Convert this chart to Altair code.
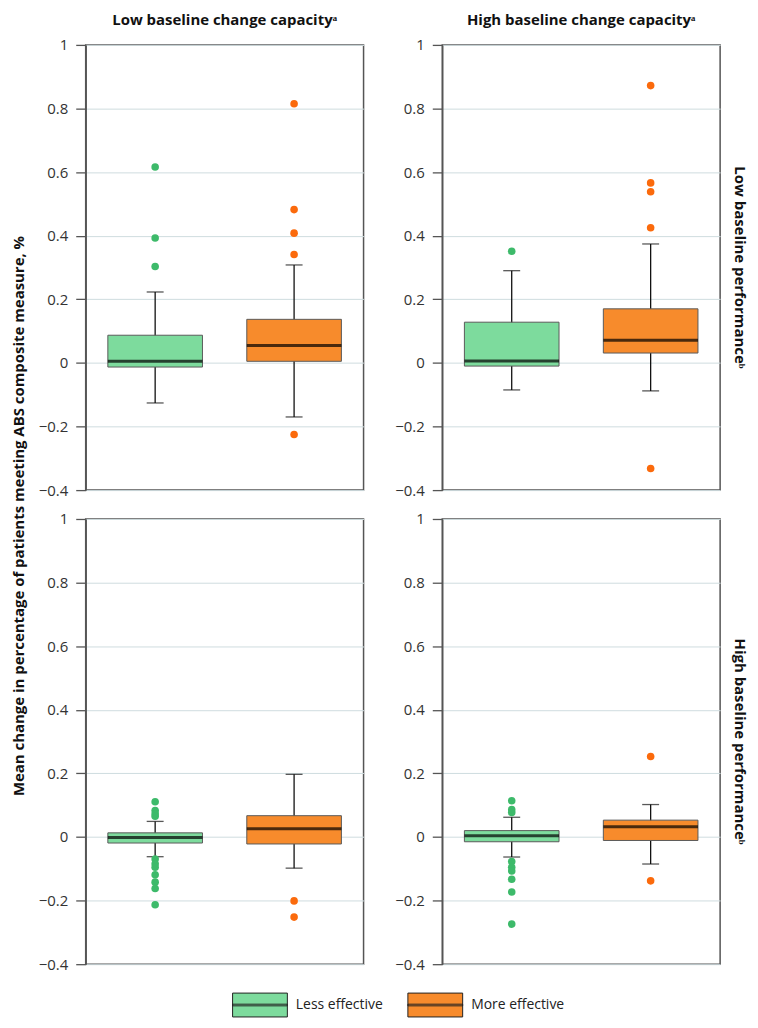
import altair as alt
import pandas as pd

LESS = "Less effective"
MORE = "More effective"
CAP_LO = "Low baseline change capacityᵃ"
CAP_HI = "High baseline change capacityᵃ"
PERF_LO = "Low baseline performanceᵇ"
PERF_HI = "High baseline performanceᵇ"

# Box summaries (one row per box)
box_perf = [PERF_LO, PERF_LO, PERF_LO, PERF_LO, PERF_HI, PERF_HI, PERF_HI, PERF_HI]
box_cap = [CAP_LO, CAP_LO, CAP_HI, CAP_HI, CAP_LO, CAP_LO, CAP_HI, CAP_HI]
box_group = [LESS, MORE, LESS, MORE, LESS, MORE, LESS, MORE]
whisker_lo = [-0.126, -0.170, -0.085, -0.088, -0.062, -0.098, -0.063, -0.085]
q1 = [-0.013, 0.005, -0.010, 0.031, -0.019, -0.022, -0.015, -0.011]
median = [0.005, 0.055, 0.006, 0.071, -0.002, 0.026, 0.004, 0.032]
q3 = [0.087, 0.137, 0.128, 0.170, 0.013, 0.067, 0.020, 0.053]
whisker_hi = [0.223, 0.308, 0.290, 0.374, 0.049, 0.197, 0.062, 0.102]

# Outliers per box (same order as above)
outliers = [
    [0.616, 0.393, 0.303],
    [0.815, 0.482, 0.408, 0.341, -0.225],
    [0.351],
    [0.872, 0.566, 0.538, 0.425, -0.332],
    [0.111, 0.083, 0.073, 0.065, -0.069, -0.084, -0.095, -0.119, -0.142, -0.162, -0.213],
    [-0.201, -0.252],
    [0.114, 0.086, 0.077, -0.077, -0.095, -0.107, -0.133, -0.173, -0.274],
    [0.253, -0.138],
]

y_ticks = [-0.4, -0.2, 0, 0.2, 0.4, 0.6, 0.8, 1]

rows = []
for i in range(len(box_group)):
    rows.append(dict(kind="box", perf=box_perf[i], cap=box_cap[i], group=box_group[i],
                     lo=whisker_lo[i], q1=q1[i], med=median[i], q3=q3[i], hi=whisker_hi[i]))
    for v in outliers[i]:
        rows.append(dict(kind="out", perf=box_perf[i], cap=box_cap[i], group=box_group[i], value=v))
df = pd.DataFrame(rows)

FONT = "Open Sans"
BOX_W = 95

x_enc = alt.X("group:N", sort=[LESS, MORE], axis=None,
              scale=alt.Scale(paddingInner=0, paddingOuter=0))
y_scale = alt.Scale(domain=[-0.4, 1], nice=False, zero=False)
y_axis = alt.Axis(values=y_ticks, format=".1~f", title=None, grid=True)

box_base = alt.Chart().transform_filter(alt.datum.kind == "box")

whisker = box_base.mark_rule(strokeWidth=1.3, color="#111111").encode(
    x=x_enc,
    y=alt.Y("lo:Q", scale=y_scale, axis=y_axis),
    y2="hi:Q",
)
cap_lo = box_base.mark_tick(color="#111111", thickness=1.3, size=17).encode(
    x=x_enc, y=alt.Y("lo:Q", scale=y_scale, axis=y_axis))
cap_hi = box_base.mark_tick(color="#111111", thickness=1.3, size=17).encode(
    x=x_enc, y=alt.Y("hi:Q", scale=y_scale, axis=y_axis))
box = box_base.mark_bar(size=BOX_W, stroke="#5a5a5a", strokeWidth=1).encode(
    x=x_enc,
    y=alt.Y("q1:Q", scale=y_scale, axis=y_axis),
    y2="q3:Q",
    color=alt.Color("group:N",
                    scale=alt.Scale(domain=[LESS, MORE], range=["#7ddb9d", "#f78b2c"]),
                    legend=alt.Legend(title=None, orient="none", direction="horizontal",
                                      legendX=147, legendY=936,
                                      symbolType="M-1,-0.436H1V0.436H-1Z M-1,-0.03H1V0.03H-1Z",
                                      symbolSize=3025,
                                      symbolStrokeColor="#222222", symbolStrokeWidth=1,
                                      symbolOpacity=1,
                                      labelFontSize=14, labelFont=FONT, labelColor="#222222",
                                      labelOffset=8, columnPadding=22)),
)
med = box_base.mark_tick(color="#000000", thickness=3, size=BOX_W).encode(
    x=x_enc, y=alt.Y("med:Q", scale=y_scale, axis=y_axis))
pts = alt.Chart().transform_filter(alt.datum.kind == "out").mark_circle(size=58, opacity=1).encode(
    x=x_enc,
    y=alt.Y("value:Q", scale=y_scale, axis=y_axis),
    color=alt.condition(alt.datum.group == LESS, alt.value("#3dba6a"), alt.value("#fb6a0c")),
)

layered = alt.layer(whisker, cap_lo, cap_hi, box, med, pts).properties(width=279, height=447)

chart = layered.facet(
    data=df,
    row=alt.Row("perf:N", sort=[PERF_LO, PERF_HI],
                header=alt.Header(title=None, labelOrient="right", labelAngle=90,
                                  labelFont=FONT, labelFontSize=15, labelFontWeight="bold",
                                  labelColor="#111111", labelPadding=11)),
    column=alt.Column("cap:N", sort=[CAP_LO, CAP_HI],
                      header=alt.Header(title=None, labelOrient="top",
                                        labelFont=FONT, labelFontSize=15, labelFontWeight="bold",
                                        labelColor="#111111", labelPadding=9)),
    spacing={"row": 12, "column": 29},
).resolve_axis(y="independent").resolve_scale(y="independent").properties(
    padding={"left": 3, "top": 3, "right": 3, "bottom": 0},
    title=alt.TitleParams(
        text="Mean change in percentage of patients meeting ABS composite measure, %",
        orient="left", anchor="middle", font=FONT, fontSize=15, fontWeight="bold",
        color="#111111", offset=11),
).configure_view(stroke="#555555", strokeWidth=1.5).configure_axis(
    labelFont=FONT, labelFontSize=15, labelColor="#333333", labelPadding=8,
    tickColor="#555555", tickSize=10, tickWidth=1.3,
    domainColor="#555555", domainWidth=1.5,
    gridColor="#cfdcdf", gridWidth=1,
)

chart.save("out.html", embed_options={"renderer": "svg", "actions": False})
